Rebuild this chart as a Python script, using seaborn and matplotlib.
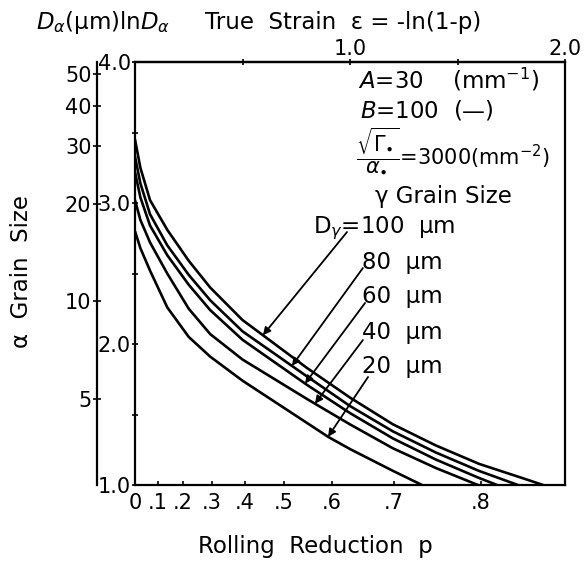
import numpy as np
import pandas as pd
import matplotlib
matplotlib.use("Agg")
import matplotlib.pyplot as plt
import seaborn as sns

# ---------------- data ----------------
# x: true strain eps = -ln(1-p), y: ln(D_alpha)
grain_sizes = ["100", "80", "60", "40", "20"]

strain_100 = [0.0, 0.025, 0.07, 0.15, 0.25, 0.35, 0.5, 0.65, 0.8, 1.0, 1.2, 1.4, 1.6, 1.8, 1.898]
lnD_100 = [3.45, 3.25, 3.02, 2.81, 2.59, 2.40, 2.17, 2.00, 1.83, 1.62, 1.43, 1.28, 1.15, 1.05, 1.0]

strain_80 = [0.0, 0.025, 0.07, 0.15, 0.25, 0.35, 0.5, 0.65, 0.8, 1.0, 1.2, 1.4, 1.6, 1.781]
lnD_80 = [3.33, 3.14, 2.92, 2.70, 2.49, 2.31, 2.09, 1.93, 1.77, 1.56, 1.38, 1.23, 1.10, 1.0]

strain_60 = [0.0, 0.025, 0.07, 0.15, 0.25, 0.35, 0.5, 0.65, 0.8, 1.0, 1.2, 1.4, 1.6, 1.684]
lnD_60 = [3.22, 3.04, 2.84, 2.63, 2.42, 2.24, 2.03, 1.87, 1.71, 1.51, 1.33, 1.18, 1.05, 1.0]

strain_40 = [0.0, 0.025, 0.07, 0.15, 0.25, 0.35, 0.5, 0.65, 0.8, 1.0, 1.2, 1.4, 1.595]
lnD_40 = [3.02, 2.88, 2.72, 2.50, 2.25, 2.07, 1.89, 1.75, 1.61, 1.43, 1.26, 1.12, 1.0]

strain_20 = [0.0, 0.025, 0.07, 0.15, 0.25, 0.35, 0.5, 0.65, 0.8, 0.9, 1.0, 1.2, 1.335]
lnD_20 = [2.80, 2.68, 2.52, 2.26, 2.05, 1.91, 1.74, 1.59, 1.44, 1.34, 1.255, 1.10, 1.0]

# bottom axis: rolling reduction p
p_ticks = [0.0, 0.1, 0.2, 0.3, 0.4, 0.5, 0.6, 0.7, 0.8]
p_labels = ["0", ".1", ".2", ".3", ".4", ".5", ".6", ".7", ".8"]
# outer left axis: D_alpha in micrometres
D_ticks = [5, 10, 20, 30, 40, 50]
# inner left axis: ln D_alpha
lnD_ticks = [1.0, 2.0, 3.0, 4.0]
# top axis: true strain
strain_ticks = [1.0, 2.0]

# leader lines: tip strain on each curve and label-side start point
tip_strain = [0.595, 0.730, 0.791, 0.837, 0.898]
start_strain = [0.986, 1.060, 1.070, 1.060, 1.084]
start_lnD = [2.794, 2.539, 2.291, 2.028, 1.766]

strains = [strain_100, strain_80, strain_60, strain_40, strain_20]
lnDs = [lnD_100, lnD_80, lnD_60, lnD_40, lnD_20]

df = pd.concat(
    [pd.DataFrame({"strain": s, "lnD": l, "Dg": g}) for s, l, g in zip(strains, lnDs, grain_sizes)],
    ignore_index=True,
)

# ---------------- figure ----------------
sns.set_theme(style="white")
plt.rcParams["font.family"] = ["DejaVu Sans"]
plt.rcParams["mathtext.fontset"] = "dejavusans"
for k in ["text.color", "axes.labelcolor", "xtick.color", "ytick.color", "axes.edgecolor"]:
    plt.rcParams[k] = "black"

W, H = 586, 562
fig = plt.figure(figsize=(W / 100, H / 100), dpi=100)
L, R, T, B = 135, 565, 62, 485
ax = fig.add_axes([L / W, 1 - B / H, (R - L) / W, (B - T) / H])

sns.lineplot(data=df, x="strain", y="lnD", hue="Dg", palette=["black"] * 5,
             legend=False, linewidth=1.9, estimator=None, ax=ax)

ax.set_xlim(0, 2.0)
ax.set_ylim(1.0, 4.0)
ax.set_xlabel("")
ax.set_ylabel("")
for sp in ax.spines.values():
    sp.set_visible(True)
    sp.set_color("black")
    sp.set_linewidth(1.6)

tls = 15
# bottom ticks (p positioned at strain)
ax.set_xticks([-np.log(1 - p) for p in p_ticks], labels=p_labels)
ax.tick_params(axis="x", bottom=True, direction="in", length=3, width=1.2,
               labelsize=tls, pad=6)

# inner left ticks (ln D)
ax.set_yticks(lnD_ticks, labels=[f"{v:.1f}" for v in lnD_ticks])
ax.set_yticks([1.5, 2.5, 3.5], minor=True)
ax.tick_params(axis="y", which="both", left=True, direction="inout", length=4,
               width=1.2, labelsize=tls, pad=1)

# top axis (true strain)
top = ax.secondary_xaxis("top")
top.set_xticks(strain_ticks, labels=[f"{v:.1f}" for v in strain_ticks])
top.set_xticks([0.5, 1.5], minor=True)
top.tick_params(which="both", direction="inout", length=4, width=1.2,
                labelsize=tls, pad=0)
top.spines["top"].set_linewidth(1.6)

# outer left axis (D in um)
outer = ax.secondary_yaxis((97 - L) / (R - L), functions=(np.exp, np.log))
outer.set_yticks(D_ticks, labels=[str(v) for v in D_ticks])
outer.minorticks_off()
outer.tick_params(direction="inout", length=6, width=1.2, labelsize=tls, pad=1)
outer.spines["left"].set_linewidth(1.6)

# figure-level labels
fs = 16.5
fig.text(22 / W, 1 - 272 / H, "α  Grain  Size", rotation=90, fontsize=fs,
         ha="center", va="center")
fig.text(315 / W, 1 - 546 / H, "Rolling  Reduction  p", fontsize=fs,
         ha="center", va="center")
fig.text(36 / W, 1 - 22 / H, r"$D_{\alpha}$(μm)ln$D_{\alpha}$", fontsize=fs,
         ha="left", va="center")
fig.text(205 / W, 1 - 22 / H, "True  Strain  ε = -ln(1-p)", fontsize=fs,
         ha="left", va="center")


def afrac(x, y):
    return (x - L) / (R - L), (B - y) / (B - T)


tr = ax.transAxes
ax.text(*afrac(358, 80), r"$A$=30    (mm$^{-1}$)", fontsize=fs, ha="left", va="center", transform=tr)
ax.text(*afrac(360, 110), r"$B$=100  (—)", fontsize=fs, ha="left", va="center", transform=tr)
ax.text(*afrac(356, 150), r"$\dfrac{\sqrt{\Gamma_{\bullet}}}{\alpha_{\bullet}}$=3000(mm$^{-2}$)",
        fontsize=15, ha="left", va="center", transform=tr)
ax.text(*afrac(375, 197), "γ Grain Size", fontsize=fs, ha="left", va="center", transform=tr)
ax.text(*afrac(313, 228), r"D$_{\gamma}$=100  μm", fontsize=fs, ha="left", va="center", transform=tr)
for lab, yy in zip(["80  μm", "60  μm", "40  μm", "20  μm"], [262, 297, 332, 367]):
    ax.text(*afrac(362, yy), lab, fontsize=fs, ha="left", va="center", transform=tr)

for s, l, ts, ss, sl in zip(strains, lnDs, tip_strain, start_strain, start_lnD):
    ty = float(np.interp(ts, s, l))
    ax.annotate("", xy=(ts, ty), xytext=(ss, sl),
                arrowprops=dict(arrowstyle="-|>", color="black", lw=1.3,
                                mutation_scale=11, shrinkA=0, shrinkB=0))

fig.savefig("out.png", dpi=100, facecolor="white")
